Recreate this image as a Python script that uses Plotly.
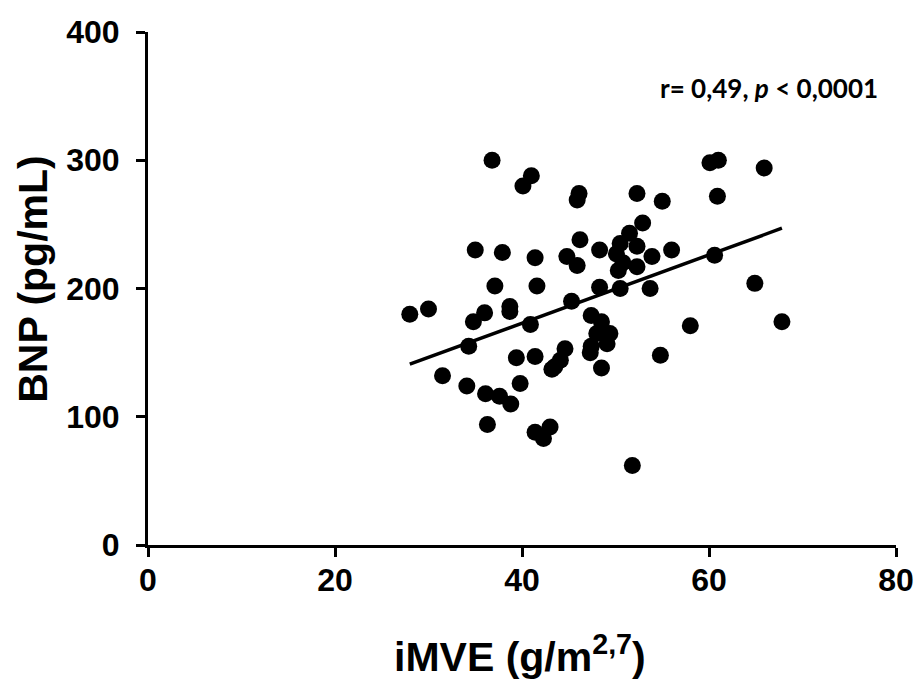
import plotly.graph_objects as go

# iMVE (g/m^2,7) values
imve = [28.0, 30.0, 31.5, 34.1, 34.3, 34.8, 35.0, 36.0, 36.1, 36.3,
        36.8, 37.1, 37.6, 37.9, 38.7, 38.7, 38.8, 39.4, 39.8, 40.1,
        40.9, 41.0, 41.4, 41.4, 41.4, 41.6, 42.3, 43.0, 43.2, 43.5,
        44.1, 44.6, 44.8, 45.3, 45.9, 45.9, 46.1, 46.2, 47.3, 47.4,
        47.4, 48.0, 48.3, 48.3, 48.5, 48.5, 48.9, 49.1, 49.4, 50.1,
        50.3, 50.5, 50.5, 50.8, 51.5, 51.8, 52.3, 52.3, 52.3, 52.9,
        53.7, 53.9, 54.8, 55.0, 56.0, 58.0, 60.1, 60.6, 60.9, 61.0,
        64.9, 65.9, 67.8]
# BNP (pg/mL) values
bnp = [180, 184, 132, 124, 155, 174, 230, 181, 118, 94,
       300, 202, 116, 228, 186, 182, 110, 146, 126, 280,
       172, 288, 224, 147, 88, 202, 83, 92, 137, 139,
       144, 153, 225, 190, 218, 269, 274, 238, 150, 155,
       179, 165, 230, 201, 138, 174, 164, 157, 165, 227,
       214, 235, 200, 220, 243, 62, 233, 217, 274, 251,
       200, 225, 148, 268, 230, 171, 298, 226, 272, 300,
       204, 294, 174]

# regression line end points
fit_x = [28.0, 67.8]
fit_y = [141, 247]

x_ticks = [0, 20, 40, 60, 80]
y_ticks = [0, 100, 200, 300, 400]

fig = go.Figure()
fig.add_trace(go.Scatter(x=fit_x, y=fit_y, mode="lines",
                         line=dict(color="black", width=3.5),
                         showlegend=False, hoverinfo="skip"))
fig.add_trace(go.Scatter(x=imve, y=bnp, mode="markers",
                         marker=dict(color="black", size=17, line=dict(width=0)),
                         showlegend=False, cliponaxis=False))

axis_common = dict(showgrid=False, zeroline=False, showline=True,
                   linecolor="black", linewidth=3, ticks="outside",
                   ticklen=9, tickwidth=3, tickcolor="black",
                   tickfont=dict(family="Liberation Sans", size=32,
                                 color="black", weight="bold"),
                   mirror=False, automargin=False)

fig.update_xaxes(range=[0, 80], tickvals=x_ticks, ticklabelstandoff=-4,
                 **axis_common)
fig.update_yaxes(range=[0, 400], tickvals=y_ticks, ticklabelstandoff=10,
                 **axis_common)

fig.add_annotation(text="r= 0,49, <i>p</i> < 0,0001", x=78.3, y=356,
                   xref="x", yref="y", xanchor="right", yanchor="middle",
                   showarrow=False,
                   font=dict(family="Lato", size=26, color="black",
                             weight="bold"))
fig.add_annotation(text="iMVE (g/m<sup>2,7</sup>)", x=0.497, y=-0.158,
                   xref="paper", yref="paper", xanchor="center",
                   yanchor="top", showarrow=False,
                   font=dict(family="Liberation Sans", size=41,
                             color="black", weight="bold"))
fig.add_annotation(text="BNP (pg/mL)", x=-0.153, y=0.518,
                   xref="paper", yref="paper", xanchor="center",
                   yanchor="middle", showarrow=False, textangle=-90,
                   font=dict(family="Liberation Sans", size=41,
                             color="black", weight="bold"))

fig.update_layout(width=920, height=682, autosize=False,
                  margin=dict(l=148, r=24, t=32, b=137, autoexpand=False),
                  plot_bgcolor="white", paper_bgcolor="white")

fig.write_html("out.html", config={"displayModeBar": False},
               post_script="document.body.style.margin='0';")
